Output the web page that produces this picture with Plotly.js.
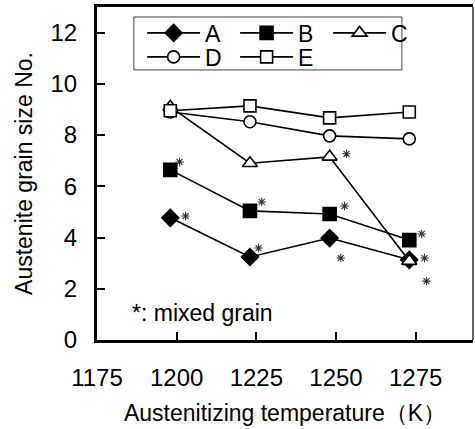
<!DOCTYPE html>
<html><head><meta charset="utf-8">
<script src="https://cdn.plot.ly/plotly-3.0.1.min.js"></script>
<style>html,body{margin:0;padding:0;background:#fff}</style>
</head><body><div id="chart" style="width:475px;height:429px"></div>
<script>
var temps = [1198, 1223, 1248, 1273];
var seriesA = [4.77, 3.24, 3.98, 3.13];
var seriesB = [6.64, 5.04, 4.92, 3.90];
var seriesC = [9.10, 6.90, 7.15, 3.08];
var seriesD = [8.90, 8.52, 7.97, 7.85];
var seriesE = [8.95, 9.14, 8.67, 8.90];
var starX = [1202.8, 1200.9, 1226.7, 1225.7, 1253.3, 1252.7, 1251.5, 1276.9, 1277.8, 1278.4];
var starY = [4.84, 6.95, 5.39, 3.59, 7.27, 5.23, 3.20, 4.14, 3.20, 2.30];
var xTicks = [1175, 1200, 1225, 1250, 1275];

var FONT = 'Liberation Sans, Arial, sans-serif';
function tr(name, y, symbol, fill, size, leg) {
  return {x: temps, y: y, name: name, type: 'scatter', mode: 'lines+markers',
    legend: leg, line: {color: '#000', width: 1.6},
    marker: {symbol: symbol, size: size, color: fill,
             line: {color: '#000', width: 1.6}}};
}
var data = [
  tr('A', seriesA, 'diamond', '#000', 13, 'legend'),
  tr('B', seriesB, 'square', '#000', 13, 'legend'),
  tr('C', seriesC, 'triangle-up', '#fff', 13, 'legend'),
  tr('D', seriesD, 'circle', '#fff', 12, 'legend2'),
  tr('E', seriesE, 'square', '#fff', 12, 'legend2'),
  {x: starX, y: starY, type: 'scatter', mode: 'markers', showlegend: false, hoverinfo: 'skip',
   marker: {symbol: 'asterisk-open', size: 7, color: '#333', line: {color: '#333', width: 1.1}}}
];
var legCommon = {orientation: 'h', xanchor: 'left', yanchor: 'middle', bgcolor: 'rgba(0,0,0,0)',
  borderwidth: 0, font: {family: FONT, size: 23, color: '#000'}, itemwidth: 53,
  entrywidth: 25, tracegroupgap: 0, itemclick: false, itemdoubleclick: false};
var layout = {
  width: 475, height: 429,
  margin: {l: 97, r: 2, t: 7, b: 89, pad: 0},
  paper_bgcolor: '#fff', plot_bgcolor: '#fff',
  font: {family: FONT, size: 23, color: '#000'},
  showlegend: true,
  legend: Object.assign({}, legCommon, {x: 0.12, y: 0.922}),
  legend2: Object.assign({}, legCommon, {x: 0.12, y: 0.85}),
  xaxis: {range: [1175, 1293], tickvals: xTicks, ticks: 'inside', ticklen: 8, tickwidth: 2,
    tickcolor: '#000', showline: true, linewidth: 3, linecolor: '#000', mirror: true,
    showgrid: false, zeroline: false, tickfont: {size: 24}, ticklabelstandoff: 14,
    title: {text: 'Austenitizing temperature（K）', font: {size: 23}, standoff: 16}},
  yaxis: {range: [0, 13], tickvals: [0, 2, 4, 6, 8, 10, 12], ticks: 'inside', ticklen: 8, tickwidth: 2,
    tickcolor: '#000', showline: true, linewidth: 3, linecolor: '#000', mirror: false,
    showgrid: false, zeroline: false, tickfont: {size: 24}, ticklabelstandoff: 12,
    title: {text: 'Austenite grain size No.', font: {size: 23}, standoff: 12}},
  shapes: [
    {type: 'rect', xref: 'paper', yref: 'paper', x0: 0.098, x1: 0.811, y0: 0.811, y1: 0.97,
     line: {color: '#444', width: 1}},
    {type: 'line', xref: 'paper', yref: 'paper', x0: 1, x1: 1, y0: 0, y1: 1,
     line: {color: '#000', width: 1.2}}
  ],
  annotations: [
    {text: '*: mixed grain', xref: 'paper', yref: 'paper', x: 0.088, y: 0.081,
     xanchor: 'left', yanchor: 'middle', showarrow: false, font: {size: 23}}
  ]
};
Plotly.newPlot('chart', data, layout, {displayModeBar: false, staticPlot: true});
</script></body></html>
